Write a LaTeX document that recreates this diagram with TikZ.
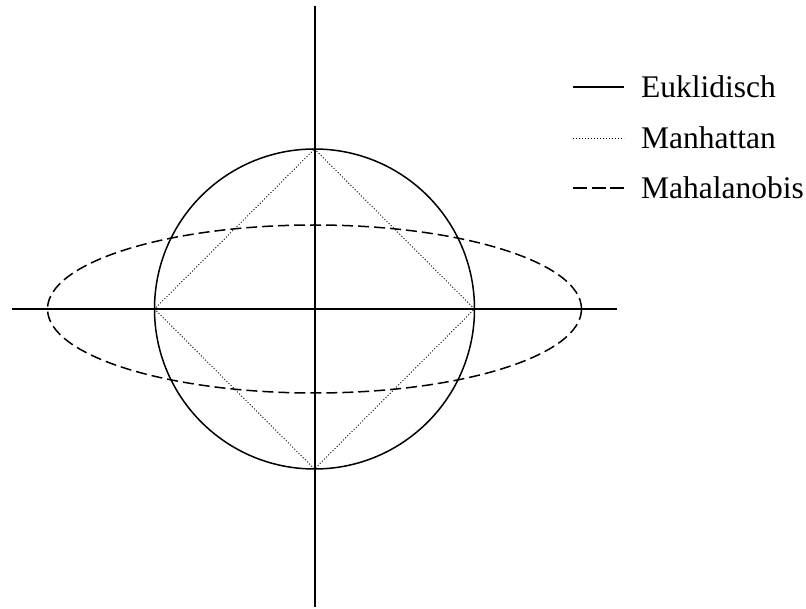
\documentclass[tikz,border=0pt]{standalone}
\usepackage{fontspec}
\setmainfont{Liberation Serif}
\usetikzlibrary{calc}
\begin{document}
\begin{tikzpicture}[x=1pt,y=-1pt,
  axisline/.style={line width=1.6pt,black},
  euklid/.style={line width=1.5pt,black},
  manh/.style={line width=0.9pt,black,dash pattern=on 1pt off 2pt},
  mahal/.style={line width=1.5pt,black,dash pattern=on 11pt off 5pt},
  mahalleg/.style={line width=1.5pt,black,dash pattern=on 14pt off 4.5pt},
  legtext/.style={anchor=base west,inner sep=0pt,font=\fontsize{31.5}{36}\selectfont}]
\useasboundingbox (0,0) rectangle (806,609);
\coordinate (O) at (314.5,309);
\coordinate (T) at (315,6);
\coordinate (B) at (315,607);
\coordinate (L) at (12,309);
\coordinate (R) at (617,309);
% axes
\draw[axisline] (T) -- (B);
\draw[axisline] (L) -- (R);
% Euclidean circle
\draw[euklid] (O) circle [radius=160];
% Mahalanobis ellipse
\draw[mahal] (O) ellipse [x radius=267, y radius=84];
% Manhattan diamond
\coordinate (DT) at ($(O)+(0,-160)$);
\coordinate (DB) at ($(O)+(0,160)$);
\coordinate (DL) at ($(O)+(-160,0)$);
\coordinate (DR) at ($(O)+(160,0)$);
\draw[manh] (DT) -- (DR) -- (DB) -- (DL) -- cycle;
% legend
\coordinate (l1a) at (573,87); \coordinate (l1b) at (624,87);
\coordinate (l2a) at (573,138); \coordinate (l2b) at (624,138);
\coordinate (l3a) at (573,188); \coordinate (l3b) at (624,188);
\draw[euklid] (l1a) -- (l1b);
\draw[manh] (l2a) -- (l2b);
\draw[mahalleg] (l3a) -- (l3b);
\node[legtext] (t1) at (641,98) {Euklidisch};
\node[legtext] (t2) at (641,149) {Manhattan};
\node[legtext] (t3) at (641,199) {Mahalanobis};
\end{tikzpicture}
\end{document}
